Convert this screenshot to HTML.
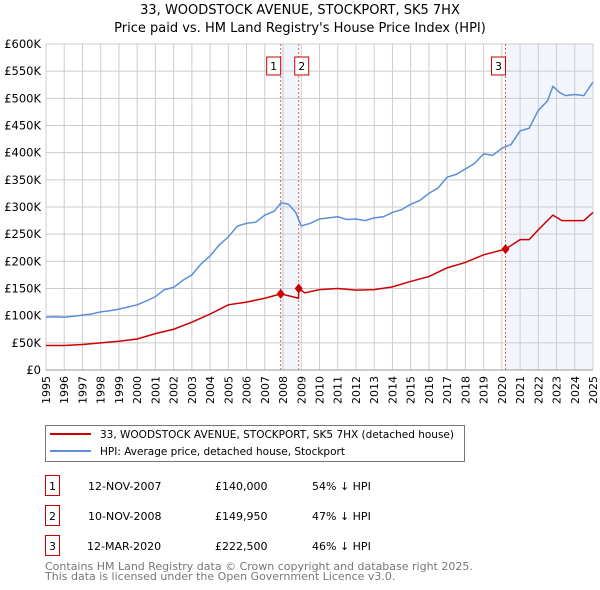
<!DOCTYPE html>
<html><head><meta charset="utf-8"><style>
body{margin:0;background:#fff;font-family:"DejaVu Sans","Liberation Sans",sans-serif;}
svg{display:block}
</style></head><body>
<svg id="c" width="600" height="590" xmlns="http://www.w3.org/2000/svg" font-family="DejaVu Sans, Liberation Sans, sans-serif">
<text x="300" y="14" text-anchor="middle" font-size="13">33, WOODSTOCK AVENUE, STOCKPORT, SK5 7HX</text>
<text x="300" y="32" text-anchor="middle" font-size="13">Price paid vs. HM Land Registry's House Price Index (HPI)</text>
<g id="plot"></g>
<g>
<rect x="45.5" y="425.5" width="419" height="36" fill="#fff" stroke="#777"/>
<line x1="50" y1="434" x2="91" y2="434" stroke="#cc0000" stroke-width="2"/>
<text x="100" y="438" font-size="10.5">33, WOODSTOCK AVENUE, STOCKPORT, SK5 7HX (detached house)</text>
<line x1="50" y1="451" x2="91" y2="451" stroke="#5b8fd6" stroke-width="2"/>
<text x="100" y="455" font-size="10.5">HPI: Average price, detached house, Stockport</text>
</g>
<g font-size="11">
<rect x="45.5" y="475.5" width="14" height="20" fill="#fff" stroke="#cc0000"/><text x="52.5" y="490" text-anchor="middle">1</text>
<text x="88" y="490">12-NOV-2007</text><text x="215" y="490">£140,000</text><text x="312" y="490">54% ↓ HPI</text>
<rect x="45.5" y="505.5" width="14" height="20" fill="#fff" stroke="#cc0000"/><text x="52.5" y="520" text-anchor="middle">2</text>
<text x="88" y="520">10-NOV-2008</text><text x="215" y="520">£149,950</text><text x="312" y="520">47% ↓ HPI</text>
<rect x="45.5" y="535.5" width="14" height="20" fill="#fff" stroke="#cc0000"/><text x="52.5" y="550" text-anchor="middle">3</text>
<text x="87" y="550">12-MAR-2020</text><text x="215" y="550">£222,500</text><text x="312" y="550">46% ↓ HPI</text>
</g>
<text x="45" y="570" font-size="11" fill="#777">Contains HM Land Registry data © Crown copyright and database right 2025.</text>
<text x="45" y="580" font-size="11" fill="#777">This data is licensed under the Open Government Licence v3.0.</text>
</svg>
<script>
const hpiYears=[1995,1995.5,1996,1996.5,1997,1997.5,1998,1998.5,1999,1999.5,2000,2000.5,2001,2001.5,2002,2002.5,2003,2003.5,2004,2004.5,2005,2005.5,2006,2006.5,2007,2007.5,2007.9,2008.3,2008.7,2009,2009.5,2010,2010.5,2011,2011.5,2012,2012.5,2013,2013.5,2014,2014.5,2015,2015.5,2016,2016.5,2017,2017.5,2018,2018.5,2019,2019.5,2020,2020.5,2021,2021.5,2022,2022.5,2022.8,2023.2,2023.5,2024,2024.5,2025];
const hpiValues=[97,98,97,99,101,103,107,109,112,116,120,127,135,148,152,165,175,195,210,230,245,265,270,272,285,292,308,305,290,265,270,278,280,282,277,278,275,280,282,290,295,305,312,325,335,355,360,370,380,398,395,408,415,440,445,478,495,522,510,505,507,505,530];
const propYears=[1995,1996,1997,1998,1999,2000,2001,2002,2003,2004,2005,2006,2007,2007.87,2008.5,2008.85,2008.86,2009.2,2010,2011,2012,2013,2014,2015,2016,2017,2018,2019,2020.2,2021,2021.5,2022,2022.8,2023.3,2024,2024.5,2025];
const propValues=[45,45,47,50,53,57,67,75,88,103,120,125,132,140,135,132,149.95,142,148,150,147,148,153,163,172,188,198,212,222.5,240,240,258,285,275,275,275,290];
const saleYears=[2007.87,2008.86,2020.2];
const saleValues=[140,149.95,222.5];
const saleLabels=["1","2","3"];
const yTicks=[0,50,100,150,200,250,300,350,400,450,500,550,600];
const xTicks=[1995,1996,1997,1998,1999,2000,2001,2002,2003,2004,2005,2006,2007,2008,2009,2010,2011,2012,2013,2014,2015,2016,2017,2018,2019,2020,2021,2022,2023,2024,2025];
const X0=46,X1=593,Y0=370,Y1=44;
const x=v=>X0+(v-1995)/30*(X1-X0);
const y=v=>Y0-v/600*(Y0-Y1);
const NS="http://www.w3.org/2000/svg";
const g=document.getElementById('plot');
function mk(t,a,p){const e=document.createElementNS(NS,t);for(const k in a)e.setAttribute(k,a[k]);(p||g).appendChild(e);return e;}
const sh1=mk('rect',{x:x(saleYears[0]),y:Y1,width:x(saleYears[1])-x(saleYears[0]),height:Y0-Y1,fill:'#f2f6fc'});


const sh2=mk('rect',{x:x(saleYears[2]),y:Y1,width:X1-x(saleYears[2]),height:Y0-Y1,fill:'#f2f6fc'});


xTicks.forEach(t=>{
 const l=mk('line',{x1:x(t),x2:x(t),y1:Y1,y2:Y0,stroke:'#ccc','stroke-width':1});
 
 
 const tx=mk('text',{x:0,y:0,'font-size':11,'text-anchor':'end',transform:`translate(${x(t)+4},${Y0+6}) rotate(-90)`});
 tx.textContent=t;
 
 
});
yTicks.forEach(t=>{
 const l=mk('line',{x1:X0,x2:X1,y1:y(t),y2:y(t),stroke:'#ccc','stroke-width':1});
 
 
 const tx=mk('text',{x:X0-5,y:y(t)+4,'font-size':11.5,'text-anchor':'end'});
 tx.textContent=t===0?'£0':'£'+t+'K';
 
 
});
saleYears.forEach((s,i)=>{
 const l=mk('line',{x1:x(s),x2:x(s),y1:Y1,y2:Y0,stroke:'#e06060','stroke-dasharray':'2,2','stroke-width':1});
 
 
 const bx=i===0?x(s)-8:(i===1?x(s)+2:x(s)-8);
 const r=mk('rect',{x:bx-6,y:57,width:14,height:18,fill:'#fff',stroke:'#cc0000'});
 
 
 const t=mk('text',{x:bx+1,y:70,'font-size':11,'text-anchor':'middle'});
 t.textContent=saleLabels[i];
 
 
});
const hp=mk('polyline',{points:hpiYears.map((v,i)=>x(v)+','+y(hpiValues[i])).join(' '),fill:'none',stroke:'#5b8fd6','stroke-width':1.5});


const pp=mk('polyline',{points:propYears.map((v,i)=>x(v)+','+y(propValues[i])).join(' '),fill:'none',stroke:'#cc0000','stroke-width':1.5});


saleYears.forEach((s,i)=>{
 const cx=x(s),cy=y(saleValues[i]);
 const d=mk('polygon',{points:`${cx},${cy-5} ${cx+4},${cy} ${cx},${cy+5} ${cx-4},${cy}`,fill:'#cc0000'});
 
 
});
const ax=mk('line',{x1:X0,x2:X1,y1:Y0,y2:Y0,stroke:'#999'});


</script>
</body></html>
